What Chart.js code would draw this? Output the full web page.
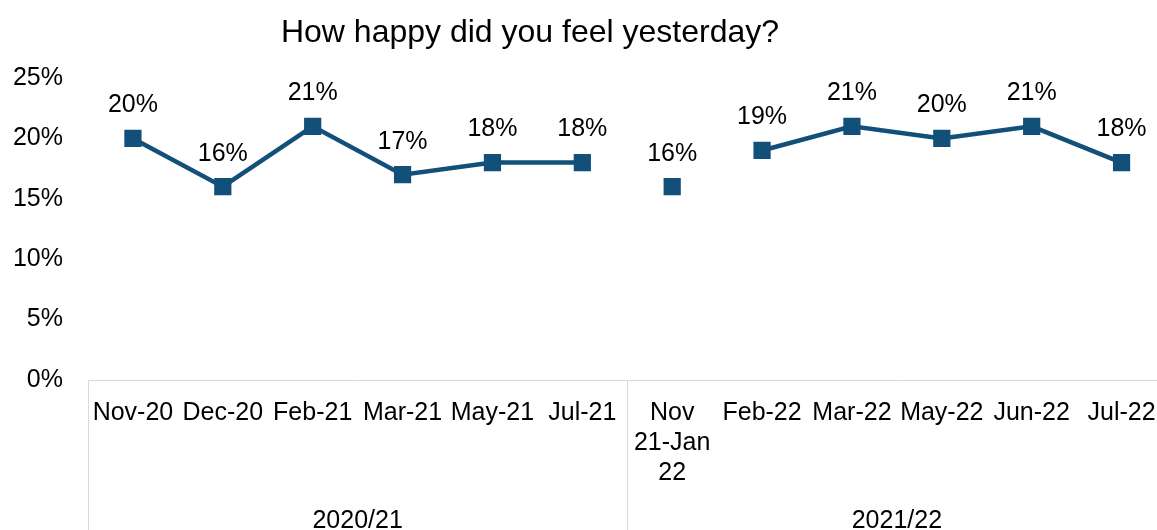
<!DOCTYPE html>
<html>
<head>
<meta charset="utf-8">
<script src="https://cdn.jsdelivr.net/npm/chart.js@4"></script>
<style>
  html, body { margin: 0; padding: 0; background: #fff; overflow: hidden; }
  #wrap { width: 1157px; height: 530px; overflow: hidden; }
</style>
</head>
<body>
<div id="wrap"><canvas id="happyChart" width="1180" height="530"></canvas></div>
<script>
const categories = ["Nov-20", "Dec-20", "Feb-21", "Mar-21", "May-21", "Jul-21",
    ["Nov", "21-Jan", "22"], "Feb-22", "Mar-22", "May-22", "Jun-22", "Jul-22"];
const happyValues = [20, 16, 21, 17, 18, 18, 16, 19, 21, 20, 21, 18];
const groups = ["2020/21", "2021/22"];
const groupSizes = [6, 6];
const yTicks = [0, 5, 10, 15, 20, 25];

const lineColor = "#12507a";
const fontFamily = "'Liberation Sans', Arial, sans-serif";

// indexes where the line is broken (segment starting at this point is hidden)
const gapStarts = [5, 6];

const extras = {
    id: "extras",
    afterDraw(chart) {
        const ctx = chart.ctx;
        const x = chart.scales.x;
        const area = chart.chartArea;
        const meta = chart.getDatasetMeta(0);

        // value labels
        ctx.save();
        ctx.font = "25px " + fontFamily;
        ctx.fillStyle = "#000";
        ctx.textAlign = "center";
        ctx.textBaseline = "middle";
        meta.data.forEach((pt, i) => {
            ctx.fillText(happyValues[i] + "%", pt.x, pt.y - 33);
        });

        // group separators and labels
        ctx.strokeStyle = "#d9d9d9";
        ctx.lineWidth = 1;
        let start = 0;
        const bounds = [area.left];
        groupSizes.forEach(n => {
            const end = start + n - 1;
            const right = end < categories.length - 1
                ? (x.getPixelForValue(end) + x.getPixelForValue(end + 1)) / 2
                : area.right;
            bounds.push(right);
            start += n;
        });
        bounds.forEach(b => {
            ctx.beginPath();
            ctx.moveTo(Math.round(b) + 0.5, area.bottom);
            ctx.lineTo(Math.round(b) + 0.5, chart.height);
            ctx.stroke();
        });
        groups.forEach((g, i) => {
            ctx.fillText(g, (bounds[i] + bounds[i + 1]) / 2, 521);
        });

        // title
        ctx.font = "32px " + fontFamily;
        ctx.fillText("How happy did you feel yesterday?", 530, 33);
        ctx.restore();
    }
};

new Chart(document.getElementById("happyChart"), {
    type: "line",
    data: {
        labels: categories,
        datasets: [
            {
                data: happyValues,
                borderColor: lineColor,
                backgroundColor: lineColor,
                borderWidth: 4.5,
                pointStyle: "rect",
                pointRadius: 9,
                pointHoverRadius: 9,
                tension: 0,
                segment: {
                    borderColor: c => gapStarts.includes(c.p0DataIndex) ? "transparent" : lineColor,
                },
            },
        ],
    },
    options: {
        responsive: false,
        animation: false,
        events: [],
        layout: { padding: { top: 78, right: 12, left: 0, bottom: 0 } },
        plugins: {
            legend: { display: false },
            tooltip: { enabled: false },
        },
        scales: {
            x: {
                offset: true,
                grid: { display: false, drawTicks: false },
                border: { display: true, color: "#d9d9d9", width: 1 },
                ticks: {
                    color: "#000",
                    font: { family: fontFamily, size: 25, lineHeight: 1.2 },
                    padding: 18,
                    maxRotation: 0,
                    autoSkip: false,
                },
                afterFit(scale) { scale.height = 150; },
            },
            y: {
                min: 0,
                max: 25,
                grid: { display: false, drawTicks: false },
                border: { display: false },
                afterBuildTicks(scale) { scale.ticks = yTicks.map(v => ({ value: v })); },
                ticks: {
                    color: "#000",
                    font: { family: fontFamily, size: 25 },
                    padding: 25,
                    callback: v => v + "%",
                },
                afterFit(scale) { scale.width = 88; },
            },
        },
    },
    plugins: [extras],
});
</script>
</body>
</html>
